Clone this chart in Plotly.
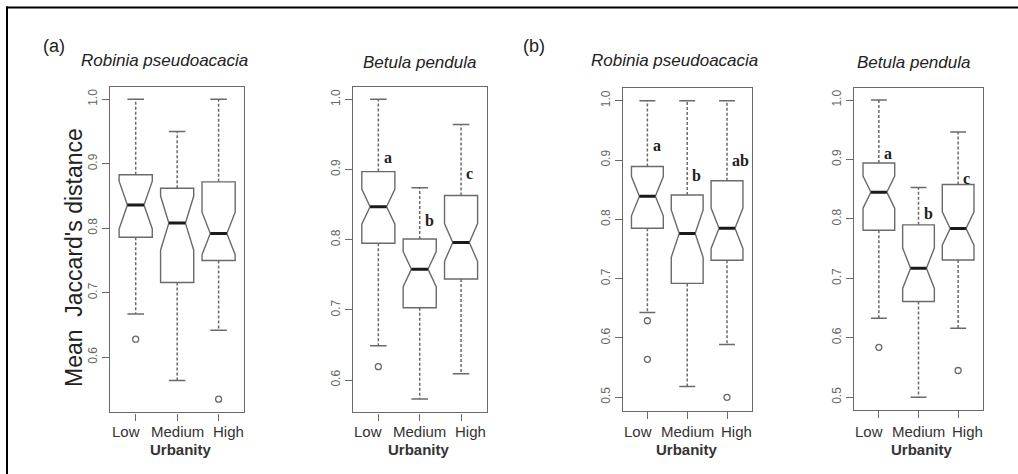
import plotly.graph_objects as go

W, H = 1018, 474

categories = ["Low", "Medium", "High"]
cat_pos = [1, 2, 3]

# Panel (a) Robinia pseudoacacia
ra_lower = [0.667, 0.564, 0.642]
ra_q1 = [0.786, 0.716, 0.750]
ra_median = [0.836, 0.808, 0.792]
ra_q3 = [0.883, 0.862, 0.872]
ra_upper = [1.000, 0.950, 1.000]
ra_notch = [0.037, 0.042, 0.033]
ra_out_x = ["Low", "High"]
ra_out_y = [0.628, 0.535]
ra_letters = []
ra_letter_y = []

# Panel (a) Betula pendula
ba_lower = [0.649, 0.573, 0.609]
ba_q1 = [0.795, 0.703, 0.744]
ba_median = [0.847, 0.758, 0.796]
ba_q3 = [0.897, 0.801, 0.863]
ba_upper = [1.000, 0.874, 0.964]
ba_notch = [0.025, 0.025, 0.027]
ba_out_x = ["Low"]
ba_out_y = [0.619]
ba_letters = ["a", "b", "c"]
ba_letter_y = [0.917, 0.828, 0.895]

# Panel (b) Robinia pseudoacacia
rb_lower = [0.643, 0.518, 0.589]
rb_q1 = [0.785, 0.692, 0.731]
rb_median = [0.839, 0.776, 0.785]
rb_q3 = [0.889, 0.841, 0.865]
rb_upper = [1.000, 1.000, 1.000]
rb_notch = [0.033, 0.040, 0.034]
rb_out_x = ["Low", "Low", "High"]
rb_out_y = [0.629, 0.564, 0.500]
rb_letters = ["a", "b", "ab"]
rb_letter_y = [0.925, 0.874, 0.900]

# Panel (b) Betula pendula
bb_lower = [0.633, 0.500, 0.616]
bb_q1 = [0.781, 0.661, 0.731]
bb_median = [0.845, 0.717, 0.784]
bb_q3 = [0.894, 0.790, 0.858]
bb_upper = [1.000, 0.853, 0.946]
bb_notch = [0.027, 0.034, 0.028]
bb_out_x = ["High", "Low"]
bb_out_y = [0.545, 0.584]
bb_letters = ["a", "b", "c"]
bb_letter_y = [0.910, 0.809, 0.868]

panel_titles = ["Robinia pseudoacacia", "Betula pendula",
                "Robinia pseudoacacia", "Betula pendula"]
y_ticks_a = [0.6, 0.7, 0.8, 0.9, 1.0]
y_ticks_b = [0.5, 0.6, 0.7, 0.8, 0.9, 1.0]
y_tick_text_a = ["0.6", "0.7", "0.8", "0.9", "1.0"]
y_tick_text_b = ["0.5", "0.6", "0.7", "0.8", "0.9", "1.0"]

panels = [
    dict(lw=ra_lower, q1=ra_q1, med=ra_median, q3=ra_q3, uw=ra_upper, notch=ra_notch,
         ox=ra_out_x, oy=ra_out_y, let=ra_letters, lety=ra_letter_y,
         yt=y_ticks_a, ytt=y_tick_text_a, yr=[0.5147, 1.0195],
         dx=[110, 244.3], dy=[86.7, 412.3], tx=164.5, ty=60.7, ux=180.5),
    dict(lw=ba_lower, q1=ba_q1, med=ba_median, q3=ba_q3, uw=ba_upper, notch=ba_notch,
         ox=ba_out_x, oy=ba_out_y, let=ba_letters, lety=ba_letter_y,
         yt=y_ticks_a, ytt=y_tick_text_a, yr=[0.554, 1.018],
         dx=[352.7, 486.7], dy=[86.7, 412.3], tx=419, ty=62.5, ux=418.5),
    dict(lw=rb_lower, q1=rb_q1, med=rb_median, q3=rb_q3, uw=rb_upper, notch=rb_notch,
         ox=rb_out_x, oy=rb_out_y, let=rb_letters, lety=rb_letter_y,
         yt=y_ticks_b, ytt=y_tick_text_b, yr=[0.4774, 1.0209],
         dx=[622.7, 751.7], dy=[88.3, 410.7], tx=674, ty=60.5, ux=686.7),
    dict(lw=bb_lower, q1=bb_q1, med=bb_median, q3=bb_q3, uw=bb_upper, notch=bb_notch,
         ox=bb_out_x, oy=bb_out_y, let=bb_letters, lety=bb_letter_y,
         yt=y_ticks_b, ytt=y_tick_text_b, yr=[0.4786, 1.0197],
         dx=[854.3, 982.7], dy=[88.3, 410.0], tx=913, ty=62.5, ux=922),
]

LINE = "#6a6a6a"
FONT = "Liberation Sans, Arial, sans-serif"

def px(x):
    return x / W

def py(y):
    return 1 - y / H

fig = go.Figure()
layout = dict(width=W, height=H, margin=dict(l=0, r=0, t=0, b=0),
              paper_bgcolor="white", plot_bgcolor="white", showlegend=False,
              font=dict(family=FONT, color="#333"))
annotations = []

for i, p in enumerate(panels):
    k = "" if i == 0 else str(i + 1)
    xa, ya = "x" + k, "y" + k
    # boxes (notched)
    fig.add_trace(go.Box(
        x=cat_pos, q1=p["q1"], median=p["med"], q3=p["q3"],
        lowerfence=p["q1"], upperfence=p["q3"], notchspan=p["notch"],
        notched=True, notchwidth=0.25, width=0.8, whiskerwidth=0,
        boxpoints=False, fillcolor="white",
        line=dict(color=LINE, width=1.4),
        xaxis=xa, yaxis=ya, hoverinfo="skip"))
    # dashed whiskers, staples, thick medians
    wx, wy, sx, sy, mx, my = [], [], [], [], [], []
    for j, c in enumerate(cat_pos):
        wx += [c, c, None, c, c, None]
        wy += [p["q3"][j], p["uw"][j], None, p["q1"][j], p["lw"][j], None]
        sx += [c - 0.2, c + 0.2, None, c - 0.2, c + 0.2, None]
        sy += [p["uw"][j], p["uw"][j], None, p["lw"][j], p["lw"][j], None]
        mx += [c - 0.2, c + 0.2, None]
        my += [p["med"][j], p["med"][j], None]
    fig.add_trace(go.Scatter(x=wx, y=wy, mode="lines", xaxis=xa, yaxis=ya,
                             line=dict(color=LINE, width=1.5, dash="3px,2px"),
                             hoverinfo="skip"))
    fig.add_trace(go.Scatter(x=sx, y=sy, mode="lines", xaxis=xa, yaxis=ya,
                             line=dict(color=LINE, width=1.5), hoverinfo="skip"))
    fig.add_trace(go.Scatter(x=mx, y=my, mode="lines", xaxis=xa, yaxis=ya,
                             line=dict(color="#1a1a1a", width=3), hoverinfo="skip"))
    # outliers
    fig.add_trace(go.Scatter(x=[cat_pos[categories.index(c)] for c in p["ox"]], y=p["oy"],
                             mode="markers", xaxis=xa, yaxis=ya,
                             marker=dict(symbol="circle-open", size=6,
                                         color=LINE, line=dict(width=1.3)),
                             hoverinfo="skip"))
    # axes
    layout["xaxis" + k] = dict(
        domain=[px(p["dx"][0]), px(p["dx"][1])], anchor=ya, range=[0.38, 3.62],
        tickmode="array", tickvals=cat_pos, ticktext=categories, showticklabels=False,
        ticks="outside", ticklen=7, tickcolor=LINE, tickwidth=1.2,
        showline=True, linecolor=LINE, linewidth=1.4, mirror=True,
        showgrid=False, zeroline=False, fixedrange=True)
    layout["yaxis" + k] = dict(
        domain=[py(p["dy"][1]), py(p["dy"][0])], anchor=xa, range=p["yr"],
        tickmode="array", tickvals=p["yt"], ticktext=p["ytt"], tickangle=-90,
        ticks="outside", ticklen=7, tickcolor=LINE, tickwidth=1.2,
        tickfont=dict(size=12, color="#666", family=FONT),
        showline=True, linecolor=LINE, linewidth=1.4, mirror=True,
        showgrid=False, zeroline=False, fixedrange=True)
    # category labels (spread slightly wider than the ticks, as in the original)
    for j, c in enumerate(cat_pos):
        annotations.append(dict(
            x=c + 0.24 * (c - 2), y=py(431.5), xref=xa, yref="paper", text=categories[j],
            showarrow=False, xanchor="center", yanchor="middle",
            font=dict(size=15, color="#333", family=FONT)))
    # significance letters
    for j, t in enumerate(p["let"]):
        annotations.append(dict(
            x=cat_pos[j] + 0.08, y=p["lety"][j], xref=xa, yref=ya, text="<b>%s</b>" % t,
            showarrow=False, xanchor="left", yanchor="middle",
            font=dict(family="Liberation Serif, Times New Roman, serif", size=16, color="#222")))
    # panel title
    annotations.append(dict(
        x=px(p["tx"]), y=py(p["ty"]), xref="paper", yref="paper",
        text="<i>%s</i>" % panel_titles[i], showarrow=False,
        xanchor="center", yanchor="middle", font=dict(size=17, color="#222", family=FONT)))
    # x axis title
    annotations.append(dict(
        x=px(p["ux"]), y=py(449), xref="paper", yref="paper",
        text="<b>Urbanity</b>", showarrow=False,
        xanchor="center", yanchor="middle", font=dict(size=15, color="#333", family=FONT)))

annotations.append(dict(x=px(41), y=py(34), xref="paper", yref="paper", text="(a)",
                        showarrow=False, font=dict(size=18, color="#222", family=FONT)))
annotations.append(dict(x=px(534), y=py(34), xref="paper", yref="paper", text="(b)",
                        showarrow=False, font=dict(size=18, color="#222", family=FONT)))
annotations.append(dict(x=px(58.5), y=py(257.5), xref="paper", yref="paper",
                        text="Mean  Jaccard's distance", textangle=-90,
                        showarrow=False, font=dict(size=23, color="#222", family=FONT)))

layout["annotations"] = annotations
layout["shapes"] = [
    dict(type="line", xref="paper", yref="paper", x0=px(6), x1=1.0, y0=py(7.5), y1=py(7.5),
         line=dict(color="black", width=2)),
    dict(type="line", xref="paper", yref="paper", x0=px(7), x1=px(7), y0=0, y1=py(6.5),
         line=dict(color="black", width=2)),
]
fig.update_layout(**layout)
fig.write_html("out.html")
